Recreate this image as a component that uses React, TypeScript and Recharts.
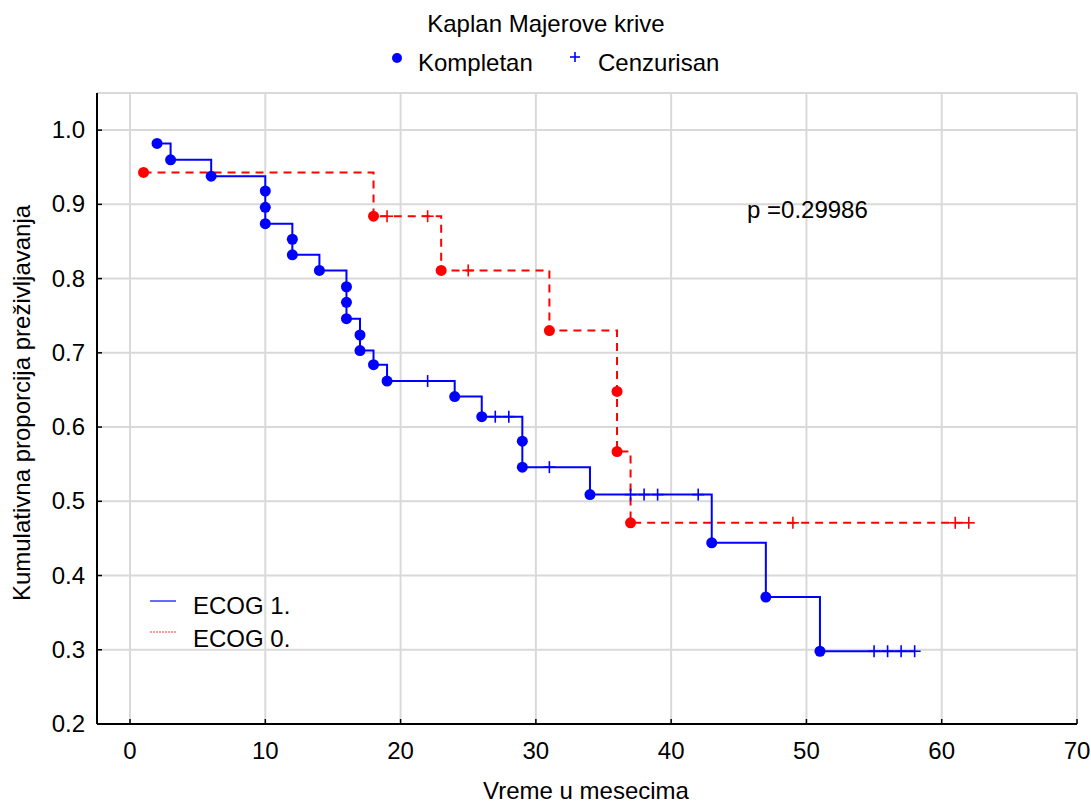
import React from "react";
import {
  ComposedChart,
  Line,
  Scatter,
  XAxis,
  YAxis,
  CartesianGrid,
} from "recharts";

const FONT = '"Liberation Sans", Arial, sans-serif';
const BLUE = "#0000ff";
const RED = "#ff0000";

// ECOG 1. - events (Kompletan) and censored cases (Cenzurisan)
const ecog1EventTimes = [2, 3, 6, 10, 10, 10, 12, 12, 14, 16, 16, 16, 17, 17, 18, 19, 24, 26, 29, 29, 34, 43, 47, 51];
const ecog1EventSurv = [0.982, 0.96, 0.938, 0.918, 0.896, 0.874, 0.853, 0.832, 0.811, 0.789, 0.768, 0.746, 0.724, 0.703, 0.684, 0.662, 0.641, 0.614, 0.581, 0.546, 0.509, 0.444, 0.371, 0.298];
const ecog1CensorTimes = [22, 27, 28, 31, 37, 38, 39, 42, 55, 56, 57, 58];
const ecog1CensorSurv = [0.662, 0.614, 0.614, 0.546, 0.509, 0.509, 0.509, 0.509, 0.298, 0.298, 0.298, 0.298];

// ECOG 0.
const ecog0EventTimes = [1, 18, 23, 31, 36, 36, 37];
const ecog0EventSurv = [0.943, 0.884, 0.811, 0.73, 0.648, 0.567, 0.471];
const ecog0CensorTimes = [19, 22, 25, 49, 61, 62];
const ecog0CensorSurv = [0.884, 0.884, 0.811, 0.471, 0.471, 0.471];

const xTicks = [0, 10, 20, 30, 40, 50, 60, 70];
const yTicks = [0.2, 0.3, 0.4, 0.5, 0.6, 0.7, 0.8, 0.9, 1.0];

const toPoints = (xs: number[], ys: number[]) => xs.map((x, i) => ({ x, y: ys[i] }));

// step curve: last survival value at each distinct time, carried to the last censored time
const toSteps = (xs: number[], ys: number[], cx: number[]) => {
  const out: { x: number; y: number }[] = [];
  xs.forEach((x, i) => {
    if (out.length && out[out.length - 1].x === x) out[out.length - 1].y = ys[i];
    else out.push({ x, y: ys[i] });
  });
  const endX = Math.max(...cx);
  if (endX > out[out.length - 1].x) out.push({ x: endX, y: out[out.length - 1].y });
  return out;
};

const ecog1Steps = toSteps(ecog1EventTimes, ecog1EventSurv, ecog1CensorTimes);
const ecog0Steps = toSteps(ecog0EventTimes, ecog0EventSurv, ecog0CensorTimes);
const ecog1Events = toPoints(ecog1EventTimes, ecog1EventSurv);
const ecog1Censored = toPoints(ecog1CensorTimes, ecog1CensorSurv);
const ecog0Events = toPoints(ecog0EventTimes, ecog0EventSurv);
const ecog0Censored = toPoints(ecog0CensorTimes, ecog0CensorSurv);

const BottomTick = (props: any) => {
  const { x, y, payload } = props;
  return (
    <g>
      <line x1={x} y1={y} x2={x} y2={y - 5} stroke="#000" strokeWidth={1.5} />
      <text x={x} y={y + 35} textAnchor="middle" fontSize={24} fontFamily={FONT} fill="#000">
        {payload.value}
      </text>
    </g>
  );
};

const LeftTick = (props: any) => {
  const { x, y, payload } = props;
  return (
    <g>
      <line x1={x} y1={y} x2={x + 5} y2={y} stroke="#000" strokeWidth={1.5} />
      <text x={x - 12} y={y + 8} textAnchor="end" fontSize={24} fontFamily={FONT} fill="#000">
        {Number(payload.value).toFixed(1)}
      </text>
    </g>
  );
};

const TopTick = (props: any) => (
  <line x1={props.x} y1={props.y} x2={props.x} y2={props.y + 5} stroke="#000" strokeWidth={1.5} />
);

const RightTick = (props: any) => (
  <line x1={props.x} y1={props.y} x2={props.x - 5} y2={props.y} stroke="#000" strokeWidth={1.5} />
);

const dotShape = (color: string) => (p: any) => (
  <circle cx={p.cx} cy={p.cy} r={5.5} fill={color} />
);

const plusShape = (color: string) => (p: any) => (
  <g stroke={color} strokeWidth={1.6}>
    <line x1={p.cx - 6} y1={p.cy} x2={p.cx + 6} y2={p.cy} />
    <line x1={p.cx} y1={p.cy - 6} x2={p.cx} y2={p.cy + 6} />
  </g>
);

export default function App() {
  return (
    <div style={{ position: "absolute", left: 0, top: 0, width: 1091, height: 806, background: "#fff" }}>
      <ComposedChart
        width={1091}
        height={806}
        margin={{ top: 93, right: 14, left: 0, bottom: 42 }}
      >
        <CartesianGrid stroke="#d9d9d9" strokeWidth={2} />
        <XAxis
          type="number"
          dataKey="x"
          domain={[-2.44, 70]}
          ticks={xTicks}
          allowDataOverflow
          height={40}
          axisLine={{ stroke: "#000", strokeWidth: 2 }}
          tickLine={false}
          tickSize={0}
          tickMargin={0}
          tick={<BottomTick />}
        />
        <XAxis
          xAxisId="top"
          orientation="top"
          type="number"
          dataKey="x"
          domain={[-2.44, 70]}
          ticks={xTicks}
          allowDataOverflow
          height={0}
          axisLine={{ stroke: "#000", strokeWidth: 2 }}
          tickLine={false}
          tickSize={0}
          tickMargin={0}
          tick={<TopTick />}
        />
        <YAxis
          type="number"
          dataKey="y"
          domain={[0.2, 1.05]}
          ticks={yTicks}
          allowDataOverflow
          width={97}
          axisLine={{ stroke: "#000", strokeWidth: 2 }}
          tickLine={false}
          tickSize={0}
          tickMargin={0}
          tick={<LeftTick />}
        />
        <YAxis
          yAxisId="right"
          orientation="right"
          type="number"
          domain={[0.2, 1.05]}
          ticks={yTicks}
          allowDataOverflow
          width={0}
          axisLine={{ stroke: "#000", strokeWidth: 2 }}
          tickLine={false}
          tickSize={0}
          tickMargin={0}
          tick={<RightTick />}
        />
        <Line
          data={ecog0Steps}
          dataKey="y"
          type="stepAfter"
          stroke={RED}
          strokeWidth={2}
          strokeDasharray="8 6"
          dot={false}
          activeDot={false}
          isAnimationActive={false}
        />
        <Line
          data={ecog1Steps}
          dataKey="y"
          type="stepAfter"
          stroke={BLUE}
          strokeWidth={2}
          dot={false}
          activeDot={false}
          isAnimationActive={false}
        />
        <Scatter data={ecog0Events} dataKey="y" shape={dotShape(RED)} isAnimationActive={false} />
        <Scatter data={ecog0Censored} dataKey="y" shape={plusShape(RED)} isAnimationActive={false} />
        <Scatter data={ecog1Events} dataKey="y" shape={dotShape(BLUE)} isAnimationActive={false} />
        <Scatter data={ecog1Censored} dataKey="y" shape={plusShape(BLUE)} isAnimationActive={false} />
      </ComposedChart>

      {/* titles, legends and annotation */}
      <svg
        width={1091}
        height={806}
        style={{ position: "absolute", left: 0, top: 0, pointerEvents: "none" }}
        fontFamily={FONT}
        fontSize={24}
        fill="#000"
      >
        <text x={546} y={32} textAnchor="middle">Kaplan Majerove krive</text>
        <circle cx={397} cy={58} r={5} fill={BLUE} />
        <text x={418} y={71}>Kompletan</text>
        <g stroke={BLUE} strokeWidth={1.6}>
          <line x1={570} y1={57} x2={580} y2={57} />
          <line x1={575} y1={52} x2={575} y2={62} />
        </g>
        <text x={598} y={71}>Cenzurisan</text>

        <text x={747} y={218}>p =0.29986</text>

        <line x1={150} y1={601} x2={176} y2={601} stroke="#6a6aff" strokeWidth={2} />
        <text x={193} y={614}>ECOG 1.</text>
        <line x1={150} y1={632} x2={176} y2={632} stroke="#ff9a9a" strokeWidth={2} strokeDasharray="2 1" />
        <text x={193} y={647}>ECOG 0.</text>

        <text x={586} y={799} textAnchor="middle">Vreme u mesecima</text>
        <text x={30} y={403} textAnchor="middle" transform="rotate(-90 30 403)">
          Kumulativna proporcija preživljavanja
        </text>
      </svg>
    </div>
  );
}
